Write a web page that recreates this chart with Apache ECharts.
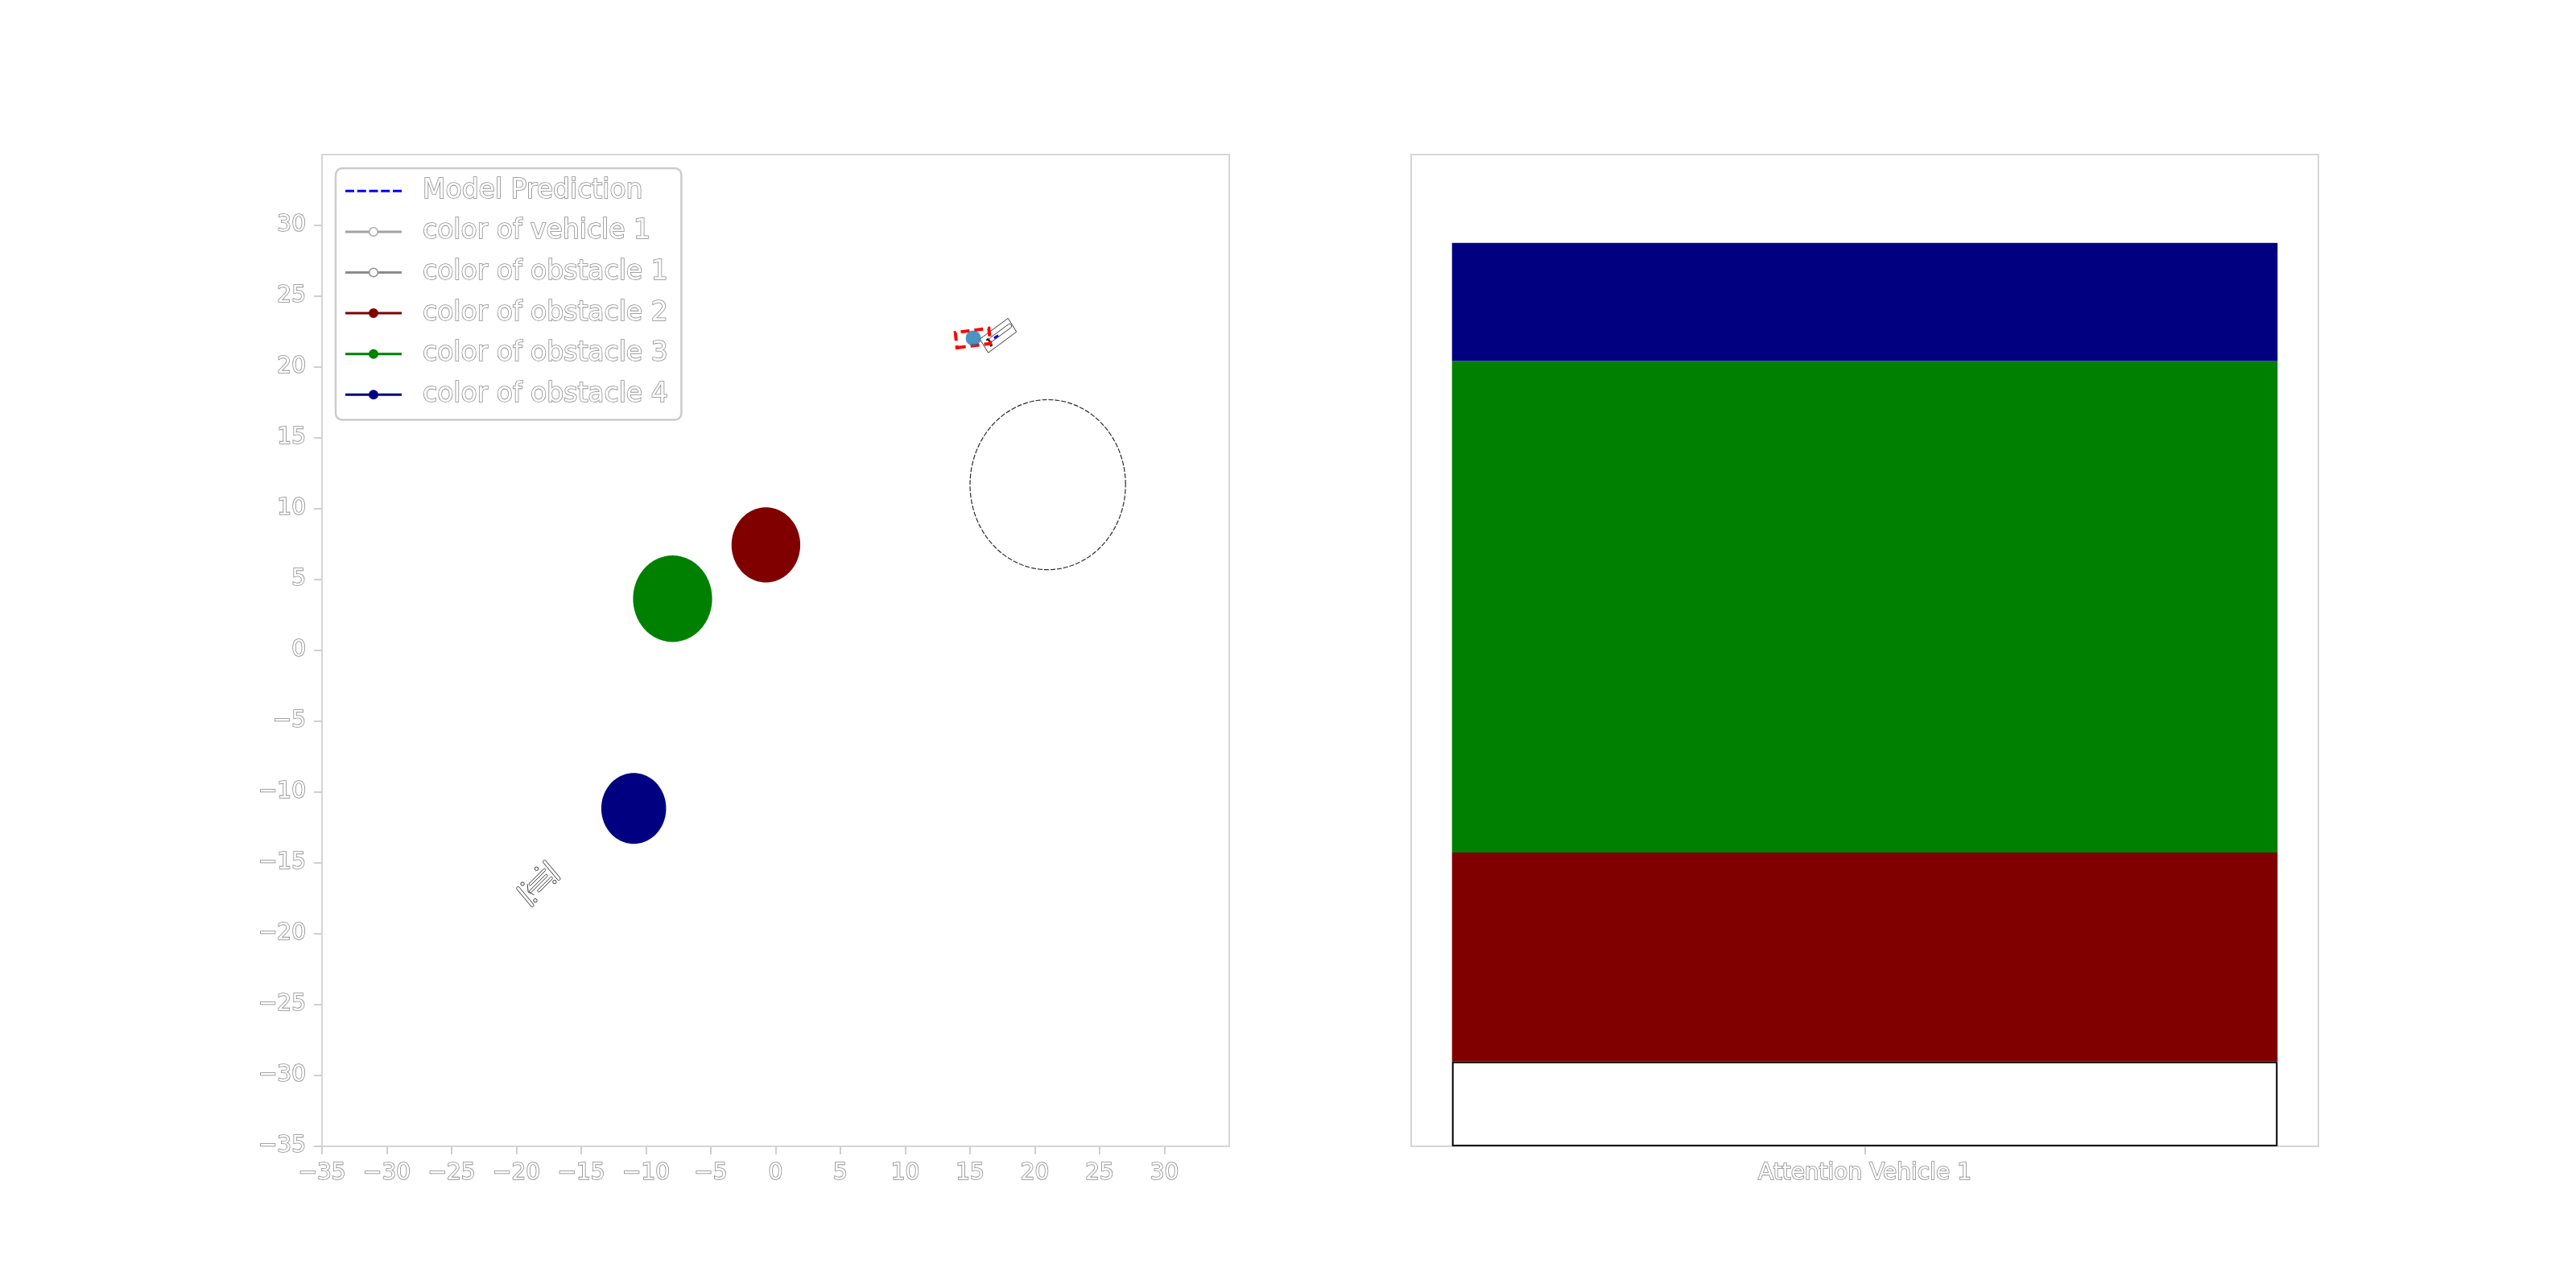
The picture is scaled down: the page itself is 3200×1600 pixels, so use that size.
<!DOCTYPE html>
<html>
<head>
<meta charset="utf-8">
<script src="https://cdn.jsdelivr.net/npm/echarts@6/dist/echarts.min.js"></script>
<style>html,body{margin:0;padding:0;background:#ffffff}#c{width:3200px;height:1600px}</style>
</head>
<body>
<div id="c"></div>
<script>
// ---------------- data ----------------
const xTickValues = [-35, -30, -25, -20, -15, -10, -5, 0, 5, 10, 15, 20, 25, 30];
const yTickValues = [-35, -30, -25, -20, -15, -10, -5, 0, 5, 10, 15, 20, 25, 30];
// model prediction (x, y)
const modelPrediction = [[16.86, 22.05], [17.25, 22.27]];
// vehicle 1 position (x, y)
const vehicle1Position = [[15.25, 22.05]];
// obstacles: centre x, centre y, radius
const obstacle1 = [[21.0, 11.7, 6.0]];
const obstacle2 = [[-0.75, 7.45, 2.65]];
const obstacle3 = [[-7.95, 3.65, 3.05]];
const obstacle4 = [[-10.95, -11.15, 2.5]];
// vehicle bounding box: centre x, centre y, angle (deg), length, width
const vehicleBox = [[15.22, 22.05, 6.6, 2.6, 1.08]];
// car icons: centre x, centre y, angle (deg), length, width, kind
const carIcons = [[17.17, 22.23, 34, 2.63, 1.16, 0], [-18.3, -16.45, 42.5, 3.3, 1.8, 1]];
// attention bars
const attentionCategories = ['Attention Vehicle 1'];
const attentionObstacle1 = [0.094];
const attentionObstacle2 = [0.232];
const attentionObstacle3 = [0.545];
const attentionObstacle4 = [0.131];

// ---------------- styling helpers ----------------
const FONT = 'DejaVu Sans';
const outlineText = { color: '#ffffff', textBorderColor: '#8a8a8a', textBorderWidth: 1.6, fontFamily: FONT };
const FRAME = '#d6d6d6';
const minus = v => String(v).replace('-', '\u2212');

function rot(cx, cy, ang, u, v) {
  const t = ang * Math.PI / 180;
  return [cx + u * Math.cos(t) - v * Math.sin(t), cy + u * Math.sin(t) + v * Math.cos(t)];
}

function circleRender(fill, stroke, lw, dash) {
  return function (params, api) {
    const cx = api.value(0), cy = api.value(1), r = api.value(2);
    const pts = [];
    for (let i = 0; i < 180; i++) {
      const a = i / 180 * 2 * Math.PI;
      pts.push(api.coord([cx + r * Math.cos(a), cy + r * Math.sin(a)]));
    }
    return { type: 'polygon', shape: { points: pts }, style: { fill: fill, stroke: stroke, lineWidth: lw, lineDash: dash || null } };
  };
}

function boxRender(params, api) {
  const cx = api.value(0), cy = api.value(1), ang = api.value(2), L = api.value(3), W = api.value(4);
  const pts = [[-L / 2, -W / 2], [L / 2, -W / 2], [L / 2, W / 2], [-L / 2, W / 2]].map(p => api.coord(rot(cx, cy, ang, p[0], p[1])));
  return { type: 'polygon', shape: { points: pts }, style: { fill: 'none', stroke: '#ff0000', lineWidth: 4, lineDash: [11, 6] } };
}

function capsule(cx, cy, ang, u0, u1, v, hw, api) {
  const pts = [];
  const n = 10;
  for (let i = 0; i <= n; i++) { const a = -Math.PI / 2 + i / n * Math.PI; pts.push([u1 + hw * Math.cos(a), v + hw * Math.sin(a)]); }
  for (let i = 0; i <= n; i++) { const a = Math.PI / 2 + i / n * Math.PI; pts.push([u0 + hw * Math.cos(a), v + hw * Math.sin(a)]); }
  return pts.map(p => api.coord(rot(cx, cy, ang, p[0], p[1])));
}

function carRender(params, api) {
  const cx = api.value(0), cy = api.value(1), ang = api.value(2), L = api.value(3), W = api.value(4), kind = api.value(5);
  const st = { fill: '#ffffff', stroke: '#3a3a3a', lineWidth: 1 };
  const children = [];
  const P = (u, v) => api.coord(rot(cx, cy, ang, u, v));
  if (kind === 0) {
    children.push({ type: 'polygon', shape: { points: [P(-L / 2, -W / 2), P(L / 2, -W / 2), P(L / 2, W / 2), P(-L / 2, W / 2)] }, style: st });
    children.push({ type: 'polygon', shape: { points: capsule(cx, cy, ang, -0.22 * L, 0.42 * L, 0.05 * W, 0.13 * W, api) }, style: st });
    children.push({ type: 'polyline', shape: { points: [P(-0.36 * L, 0.2 * W), P(-0.3 * L, 0.2 * W), P(-0.3 * L, -0.25 * W), P(-0.36 * L, -0.25 * W)] }, style: { fill: 'none', stroke: '#111', lineWidth: 2 } });
  } else {
    children.push({ type: 'polygon', shape: { points: capsule(cx, cy, ang + 90, -0.45 * W, 0.45 * W, -0.42 * L, 0.035 * L, api) }, style: st });
    children.push({ type: 'polygon', shape: { points: capsule(cx, cy, ang + 90, -0.45 * W, 0.45 * W, 0.42 * L, 0.035 * L, api) }, style: st });
    children.push({ type: 'polygon', shape: { points: capsule(cx, cy, ang, -0.15 * L, 0.3 * L, 0.22 * W, 0.05 * W, api) }, style: st });
    children.push({ type: 'polygon', shape: { points: capsule(cx, cy, ang, -0.25 * L, 0.25 * L, 0.0, 0.05 * W, api) }, style: st });
    children.push({ type: 'polygon', shape: { points: capsule(cx, cy, ang, -0.1 * L, 0.3 * L, -0.22 * W, 0.05 * W, api) }, style: st });
    children.push({ type: 'polyline', shape: { points: [P(-0.2 * L, 0.3 * W), P(-0.3 * L, 0.05 * W), P(-0.24 * L, -0.2 * W)] }, style: { fill: 'none', stroke: '#3a3a3a', lineWidth: 1 } });
    [[0.18 * L, 0.48 * W], [-0.28 * L, 0.45 * W], [0.3 * L, -0.42 * W], [-0.3 * L, -0.4 * W]].forEach(d => {
      const c = P(d[0], d[1]);
      children.push({ type: 'circle', shape: { cx: c[0], cy: c[1], r: 2.2 }, style: st });
    });
  }
  return { type: 'group', children: children };
}

// legend icons (70 x 12 boxes)
const dotIcon = 'path://M0,4.5H70V7.5H0Z M29,6A6,6 0 1 1 41,6A6,6 0 1 1 29,6Z';
const ringIcon = 'path://M0,4.5H29.3V7.5H0Z M40.7,4.5H70V7.5H40.7Z M29,6A6,6 0 1 1 41,6A6,6 0 1 1 29,6Z M30.4,6A4.6,4.6 0 1 0 39.6,6A4.6,4.6 0 1 0 30.4,6Z';
const dashIcon = 'path://M0,0L0.01,0L0,0.01Z M0,12L0.01,12L0,11.99Z M0,4.5H11V7.5H0Z M14.75,4.5H25.75V7.5H14.75Z M29.5,4.5H40.5V7.5H29.5Z M44.25,4.5H55.25V7.5H44.25Z M59,4.5H70V7.5H59Z';

const chart = echarts.init(document.getElementById('c'), null, { renderer: 'canvas' });

const tickStyle = { show: true, length: 10, lineStyle: { color: '#cfcfcf', width: 2 } };
const labelStyle = Object.assign({ fontSize: 28, margin: 20, formatter: minus }, outlineText);

const option = {
  animation: false,
  backgroundColor: '#ffffff',
  grid: [
    { left: 400, top: 192, width: 1127, height: 1232, show: true, borderColor: FRAME, borderWidth: 2, backgroundColor: 'transparent' },
    { left: 1753, top: 192, width: 1127, height: 1232, show: true, borderColor: FRAME, borderWidth: 2, backgroundColor: 'transparent' }
  ],
  xAxis: [
    {
      type: 'value', gridIndex: 0, min: -35, max: 35, interval: 5, position: 'bottom',
      axisLine: { show: false, onZero: false }, splitLine: { show: false },
      axisTick: Object.assign({}, tickStyle, { customValues: xTickValues }),
      axisLabel: Object.assign({}, labelStyle, { customValues: xTickValues })
    },
    {
      type: 'category', gridIndex: 1, data: attentionCategories, boundaryGap: true, position: 'bottom',
      axisLine: { show: false, onZero: false }, splitLine: { show: false },
      axisTick: { show: true, alignWithLabel: true, length: 10, lineStyle: { color: '#cfcfcf', width: 2 } },
      axisLabel: Object.assign({ fontSize: 28, margin: 20 }, outlineText)
    }
  ],
  yAxis: [
    {
      type: 'value', gridIndex: 0, min: -35, max: 35, interval: 5, position: 'left',
      axisLine: { show: false, onZero: false }, splitLine: { show: false },
      axisTick: Object.assign({}, tickStyle, { customValues: yTickValues }),
      axisLabel: Object.assign({}, labelStyle, { customValues: yTickValues })
    },
    {
      type: 'value', gridIndex: 1, min: 0, max: 1.1,
      axisLine: { show: false, onZero: false }, splitLine: { show: false }, axisTick: { show: false }, axisLabel: { show: false }
    }
  ],
  legend: {
    orient: 'vertical', left: 417, top: 209,
    padding: [11, 16, 14, 12],
    itemWidth: 70, itemHeight: 12, itemGap: 16,
    selectedMode: false,
    backgroundColor: '#ffffff', borderColor: '#cccccc', borderWidth: 2.5, borderRadius: 8,
    textStyle: Object.assign({ fontSize: 33, lineHeight: 33, padding: [0, 0, 0, 21] }, outlineText),
    data: [
      { name: 'Model Prediction', icon: dashIcon, itemStyle: { color: '#0000ff', borderWidth: 0 } },
      { name: 'color of vehicle 1', icon: ringIcon, itemStyle: { color: '#8c8c8c', borderWidth: 0 } },
      { name: 'color of obstacle 1', icon: ringIcon, itemStyle: { color: '#8c8c8c', borderWidth: 0 } },
      { name: 'color of obstacle 2', icon: dotIcon, itemStyle: { color: '#800000', borderWidth: 0 } },
      { name: 'color of obstacle 3', icon: dotIcon, itemStyle: { color: '#008000', borderWidth: 0 } },
      { name: 'color of obstacle 4', icon: dotIcon, itemStyle: { color: '#000080', borderWidth: 0 } }
    ]
  },
  series: [
    { name: 'color of obstacle 1', type: 'custom', xAxisIndex: 0, yAxisIndex: 0, clip: true, silent: true, z: 2,
      itemStyle: { color: '#ffffff' }, renderItem: circleRender('none', '#2a2a2a', 1.2, [6, 2]), data: obstacle1 },
    { name: 'color of obstacle 2', type: 'custom', xAxisIndex: 0, yAxisIndex: 0, clip: true, silent: true, z: 2,
      itemStyle: { color: '#800000' }, renderItem: circleRender('#800000', null, 0), data: obstacle2 },
    { name: 'color of obstacle 3', type: 'custom', xAxisIndex: 0, yAxisIndex: 0, clip: true, silent: true, z: 2,
      itemStyle: { color: '#008000' }, renderItem: circleRender('#008000', null, 0), data: obstacle3 },
    { name: 'color of obstacle 4', type: 'custom', xAxisIndex: 0, yAxisIndex: 0, clip: true, silent: true, z: 2,
      itemStyle: { color: '#000080' }, renderItem: circleRender('#000080', null, 0), data: obstacle4 },
    { name: 'car icons', type: 'custom', xAxisIndex: 0, yAxisIndex: 0, clip: true, silent: true, z: 3,
      renderItem: carRender, data: carIcons },
    { name: 'vehicle box', type: 'custom', xAxisIndex: 0, yAxisIndex: 0, clip: true, silent: true, z: 4,
      renderItem: boxRender, data: vehicleBox },
    { name: 'color of vehicle 1', type: 'scatter', xAxisIndex: 0, yAxisIndex: 0, silent: true, z: 5,
      symbol: 'circle', symbolSize: 19, itemStyle: { color: '#1f77b4' }, data: vehicle1Position },
    { name: 'Model Prediction', type: 'line', xAxisIndex: 0, yAxisIndex: 0, silent: true, z: 6,
      symbol: 'none', lineStyle: { color: '#0000ff', width: 3, type: [6, 3] }, itemStyle: { color: '#0000ff' }, data: modelPrediction },

    { name: 'attention obstacle 1', type: 'bar', xAxisIndex: 1, yAxisIndex: 1, stack: 'att', barWidth: '91%', silent: true,
      itemStyle: { color: '#ffffff', borderColor: '#000000', borderWidth: 2 }, data: attentionObstacle1 },
    { name: 'attention obstacle 2', type: 'bar', xAxisIndex: 1, yAxisIndex: 1, stack: 'att', barWidth: '91%', silent: true,
      itemStyle: { color: '#800000' }, data: attentionObstacle2 },
    { name: 'attention obstacle 3', type: 'bar', xAxisIndex: 1, yAxisIndex: 1, stack: 'att', barWidth: '91%', silent: true,
      itemStyle: { color: '#008000' }, data: attentionObstacle3 },
    { name: 'attention obstacle 4', type: 'bar', xAxisIndex: 1, yAxisIndex: 1, stack: 'att', barWidth: '91%', silent: true,
      itemStyle: { color: '#000080' }, data: attentionObstacle4 }
  ]
};
chart.setOption(option);
</script>
</body>
</html>
